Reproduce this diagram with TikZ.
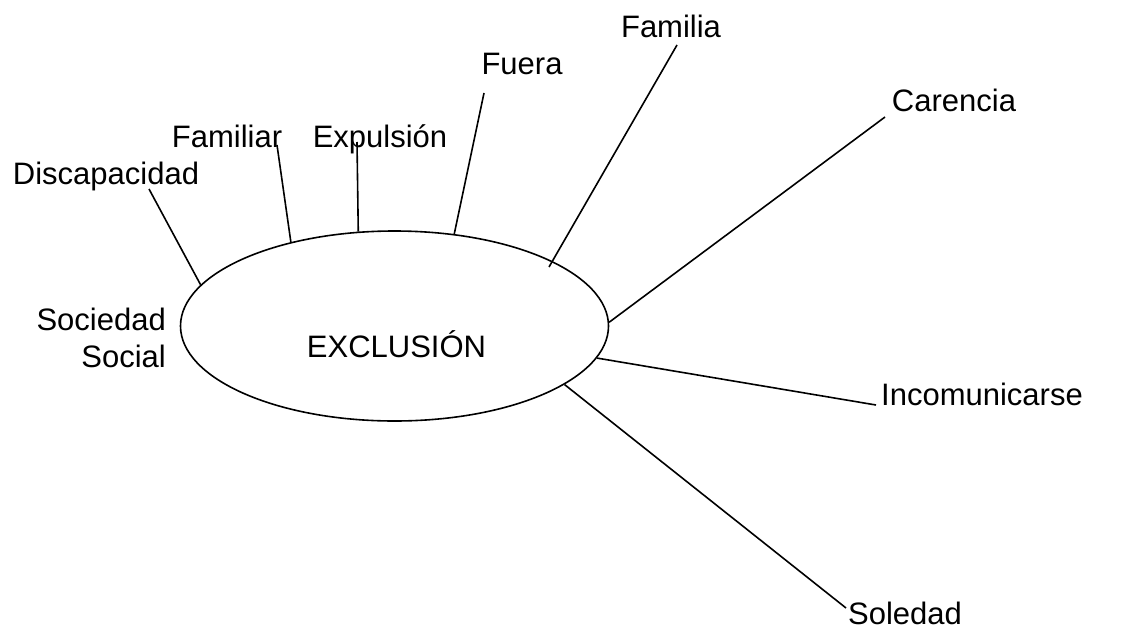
\documentclass[tikz,border=0pt]{standalone}
\usepackage{fontspec}
\setmainfont{Liberation Sans}
\usetikzlibrary{shapes.geometric}
\tikzset{l/.style={font=\fontsize{31}{37}\selectfont, inner sep=0pt}}
\tikzset{ln/.style={line width=1.6pt}}

\begin{document}
\begin{tikzpicture}[x=1pt, y=-1pt]
    \useasboundingbox (0,0) rectangle (1123,629);
    % centre
    \node [ellipse, draw, ln, minimum width=428pt, minimum height=190pt, inner sep=0pt] (ex) at (394.5,326) {};
    \node [l, anchor=base] (excl) at (396.5,357) {EXCLUSIÓN};
    % words round it
    \node [l, anchor=base] (disc) at (106,184) {Discapacidad};
    \node [l, anchor=base] (famr) at (227,147) {Familiar};
    \node [l, anchor=base] (expu) at (380,147) {Expulsión};
    \node [l, anchor=base] (fuer) at (522,74) {Fuera};
    \node [l, anchor=base] (faml) at (671,37) {Familia};
    \node [l, anchor=base] (care) at (954,111) {Carencia};
    \node [l, anchor=base] (inco) at (982,405) {Incomunicarse};
    \node [l, anchor=base] (sole) at (905,624) {Soledad};
    \node [l, anchor=east, align=right] (soci) at (166,338) {Sociedad\\Social};
    % line ends
    \coordinate (disc-e) at (149,189);
    \coordinate (famr-e) at (277,145);
    \coordinate (expu-e) at (357,142);
    \coordinate (fuer-e) at (484,93);
    \coordinate (faml-e) at (677,45);
    \coordinate (faml-i) at (549,267);
    \coordinate (care-e) at (885,117);
    \coordinate (inco-e) at (876,405);
    \coordinate (sole-e) at (846,608);
    \draw [ln] (ex.168) -- (disc-e);
    \draw [ln] (ex.141) -- (famr-e);
    \draw [ln] (ex.111) -- (expu-e);
    \draw [ln] (ex.57) -- (fuer-e);
    \draw [ln] (faml-i) -- (faml-e);
    \draw [ln] (ex.1) -- (care-e);
    \draw [ln] (ex.-9) -- (inco-e);
    \draw [ln] (ex.-19) -- (sole-e);
\end{tikzpicture}
\end{document}
